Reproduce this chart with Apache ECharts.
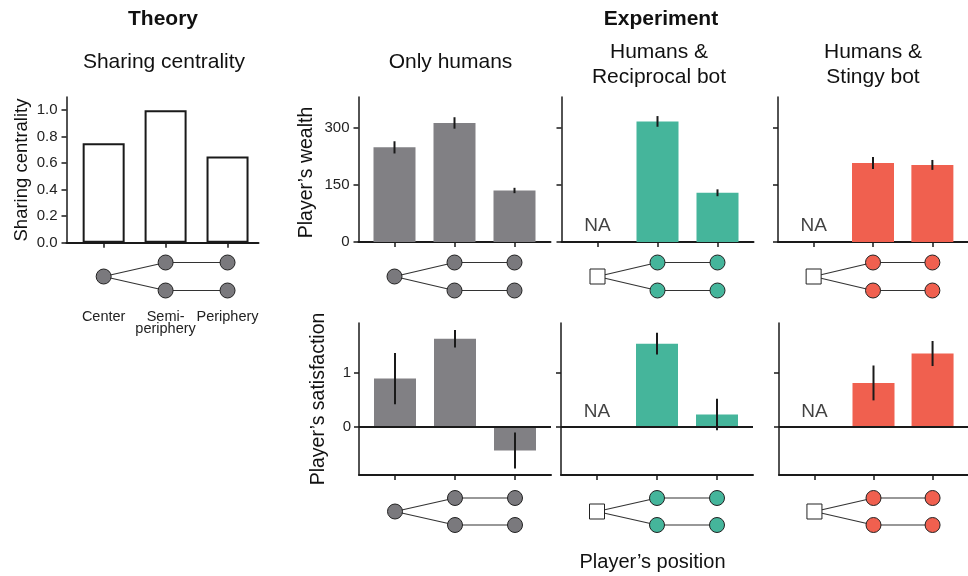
<!DOCTYPE html>
<html><head><meta charset="utf-8">
<script src="https://cdn.jsdelivr.net/npm/echarts@6/dist/echarts.min.js"></script>
<style>html,body{margin:0;padding:0;background:#fff}#c{width:968px;height:576px}</style>
</head><body><div id="c"></div>
<script>
// ---------- data ----------
const positions = ['Center', 'Semi-\nperiphery', 'Periphery'];
const theoryCentrality = [0.75, 1.0, 0.65];
const theoryTicks = [0, 0.2, 0.4, 0.6, 0.8, 1.0];
const wealthTicks = [0, 150, 300];
const satisfactionTicks = [0, 1];

const wealthHumans = [248, 312, 135];
const wealthHumansErr = [16, 15, 7];
const wealthReciprocal = [null, 316, 129];
const wealthReciprocalErr = [null, 14, 9];
const wealthStingy = [null, 207, 202];
const wealthStingyErr = [null, 16, 13];

const satHumans = [0.89, 1.62, -0.43];
const satHumansErr = [0.47, 0.16, 0.33];
const satReciprocal = [null, 1.53, 0.23];
const satReciprocalErr = [null, 0.2, 0.29];
const satStingy = [null, 0.81, 1.35];
const satStingyErr = [null, 0.32, 0.23];

const naLabel = 'NA';
const naWealthLevel = 42;
const naSatLevel = 0.28;

// network diagram: node positions (category index, row) and edges
const nodePos = [[0, 0.5], [1, 1], [1, 0], [2, 1], [2, 0]];
const edgePaths = [[[0, 0.5], [1, 1], [2, 1]], [[0, 0.5], [1, 0], [2, 0]]];

// ---------- style ----------
const FONT = "'Liberation Sans', Arial, Helvetica, sans-serif";
const INK = '#1a1a1a';
const GRAY = '#818084';
const GRAY_NODE = '#7a797d';
const TEAL = '#45b59b';
const RED = '#f0604f';

const grid = [], xAxis = [], yAxis = [], series = [];

function addPanel(c) {
  const gi = grid.length;
  grid.push({ left: c.left, top: c.top, width: c.width, height: c.height });
  xAxis.push({
    gridIndex: gi, type: 'value', min: -0.6, max: c.xMax,
    axisLine: { show: true, onZero: false, lineStyle: { color: INK, width: 2 } },
    axisTick: { show: true, customValues: [0, 1, 2], length: 5, lineStyle: { color: INK, width: 1.5 } },
    axisLabel: { show: false }, splitLine: { show: false }
  });
  yAxis.push({
    gridIndex: gi, type: 'value', min: c.yMin, max: c.yMax,
    axisLine: { show: true, onZero: false, lineStyle: { color: INK, width: 1.5 } },
    axisTick: { show: true, customValues: c.ticks, length: 5, lineStyle: { color: INK, width: 1.5 } },
    axisLabel: { show: c.showLabels, customValues: c.ticks, formatter: c.fmt, color: '#222',
      fontSize: 15, fontFamily: FONT, margin: c.margin || 9 },
    splitLine: { show: false }
  });
  return gi;
}

function addBars(gi, vals, errs, color, opts) {
  opts = opts || {};
  const s = {
    type: 'bar', xAxisIndex: gi, yAxisIndex: gi, barWidth: opts.barWidth || 42,
    data: vals.map((v, i) => [i, v]).filter(d => d[1] != null),
    itemStyle: opts.itemStyle || { color: color },
    silent: true, animation: false, z: 2
  };
  if (opts.zeroLine) {
    s.markLine = { silent: true, symbol: 'none', animation: false, label: { show: false },
      lineStyle: { color: INK, width: 2, type: 'solid' }, data: [{ yAxis: 0 }] };
  }
  series.push(s);
  if (errs) {
    series.push({
      type: 'custom', xAxisIndex: gi, yAxisIndex: gi, silent: true, animation: false, z: 5,
      data: vals.map((v, i) => v == null ? null : [i, v - errs[i], v + errs[i]]).filter(Boolean),
      renderItem: function (p, api) {
        const a = api.coord([api.value(0), api.value(1)]);
        const b = api.coord([api.value(0), api.value(2)]);
        return { type: 'line', shape: { x1: a[0], y1: a[1], x2: b[0], y2: b[1] },
          style: { stroke: INK, lineWidth: 2 } };
      }
    });
  }
}

function addNA(gi, level) {
  series.push({
    type: 'scatter', xAxisIndex: gi, yAxisIndex: gi, silent: true, animation: false,
    data: [[0, level]], symbolSize: 1, itemStyle: { color: 'transparent' },
    label: { show: true, position: 'inside', formatter: naLabel, fontSize: 19, fontFamily: FONT, color: '#111' }
  });
}

function addDiagram(left, width, top, height, xMax, fill, bot, labels) {
  const gi = grid.length;
  grid.push({ left: left, top: top, width: width, height: height });
  xAxis.push({
    gridIndex: gi, type: 'value', min: -0.6, max: xMax,
    axisLine: { show: false }, axisTick: { show: false }, splitLine: { show: false },
    axisLabel: labels ? { show: true, customValues: [0, 1, 2], formatter: v => positions[Math.round(v)],
      fontSize: 14.5, fontFamily: FONT, color: '#222', lineHeight: 12, verticalAlign: 'top', margin: 6.5 } : { show: false }
  });
  yAxis.push({ gridIndex: gi, type: 'value', min: -0.5, max: 1.5, show: false });
  edgePaths.forEach(p => series.push({
    type: 'line', xAxisIndex: gi, yAxisIndex: gi, data: p, symbol: 'none', showSymbol: false,
    lineStyle: { color: '#333', width: 1.2 }, silent: true, animation: false, z: 3
  }));
  series.push({
    type: 'scatter', xAxisIndex: gi, yAxisIndex: gi, data: nodePos.slice(1), symbol: 'circle', symbolSize: 15,
    itemStyle: { color: fill, borderColor: '#222', borderWidth: 1, opacity: 1 }, silent: true, animation: false, z: 4
  });
  series.push({
    type: 'scatter', xAxisIndex: gi, yAxisIndex: gi, data: [nodePos[0]], symbol: bot ? 'rect' : 'circle', symbolSize: 15,
    itemStyle: { color: bot ? '#fff' : fill, borderColor: '#222', borderWidth: 1, opacity: 1 }, silent: true, animation: false, z: 4
  });
}

// ---------- Theory ----------
const gT = addPanel({ left: 66.5, top: 97, width: 192, height: 145.7, xMax: 2.5, yMin: 0, yMax: 1.1,
  ticks: theoryTicks, showLabels: true, fmt: v => v.toFixed(1) });
addBars(gT, theoryCentrality, null, null, { barWidth: 42, itemStyle: { color: '#fff', borderColor: INK, borderWidth: 2 } });
addDiagram(66.5, 192, 248.5, 56, 2.5, GRAY_NODE, false, true);

// ---------- Wealth row ----------
const wealthCfg = { top: 97, height: 145, width: 192, xMax: 2.6, yMin: 0, yMax: 380, ticks: wealthTicks, fmt: v => String(v) };
const gW1 = addPanel(Object.assign({}, wealthCfg, { left: 358.5, showLabels: true }));
addBars(gW1, wealthHumans, wealthHumansErr, GRAY);
const gW2 = addPanel(Object.assign({}, wealthCfg, { left: 561.5, showLabels: false }));
addBars(gW2, wealthReciprocal, wealthReciprocalErr, TEAL);
addNA(gW2, naWealthLevel);
const gW3 = addPanel(Object.assign({}, wealthCfg, { left: 778, showLabels: false }));
addBars(gW3, wealthStingy, wealthStingyErr, RED);
addNA(gW3, naWealthLevel);
addDiagram(358.5, 192, 248.5, 56, 2.6, GRAY_NODE, false, false);
addDiagram(561.5, 192, 248.5, 56, 2.6, TEAL, true, false);
addDiagram(778, 192, 248.5, 56, 2.6, RED, true, false);

// ---------- Satisfaction row ----------
const satCfg = { top: 323, height: 152, width: 192, xMax: 2.6, yMin: -0.88, yMax: 1.91, ticks: satisfactionTicks, fmt: v => String(v), margin: 8 };
const gS1 = addPanel(Object.assign({}, satCfg, { left: 359, showLabels: true }));
addBars(gS1, satHumans, satHumansErr, GRAY, { zeroLine: true });
const gS2 = addPanel(Object.assign({}, satCfg, { left: 561, showLabels: false }));
addBars(gS2, satReciprocal, satReciprocalErr, TEAL, { zeroLine: true });
addNA(gS2, naSatLevel);
const gS3 = addPanel(Object.assign({}, satCfg, { left: 779, showLabels: false }));
addBars(gS3, satStingy, satStingyErr, RED, { zeroLine: true });
addNA(gS3, naSatLevel);
addDiagram(359, 192, 484.5, 54, 2.6, GRAY_NODE, false, false);
addDiagram(561, 192, 484.5, 54, 2.6, TEAL, true, false);
addDiagram(779, 192, 484.5, 54, 2.6, RED, true, false);

// ---------- texts ----------
function txt(text, x, y, size, opts) {
  opts = opts || {};
  return {
    type: 'text', x: x, y: y, rotation: opts.rot || 0, silent: true,
    style: { text: text, font: (opts.bold ? 'bold ' : '') + size + 'px ' + FONT, fill: '#111',
      align: 'center', verticalAlign: 'middle', textAlign: 'center', textVerticalAlign: 'middle' }
  };
}
const graphic = [
  txt('Theory', 163, 19, 21, { bold: true }),
  txt('Sharing centrality', 164, 62, 21),
  txt('Experiment', 661, 19, 21, { bold: true }),
  txt('Only humans', 450.5, 62, 21),
  txt('Humans &', 659, 52, 21),
  txt('Reciprocal bot', 659, 77, 21),
  txt('Humans &', 873, 52, 21),
  txt('Stingy bot', 873, 77, 21),
  txt('Player\u2019s position', 652.5, 562, 20),
  txt('Sharing centrality', 22, 170, 18.5, { rot: Math.PI / 2 }),
  txt('Player\u2019s wealth', 307, 172.5, 19.5, { rot: Math.PI / 2 }),
  txt('Player\u2019s satisfaction', 319, 399, 19.5, { rot: Math.PI / 2 })
];

const chart = echarts.init(document.getElementById('c'), null, { renderer: 'canvas' });
chart.setOption({
  backgroundColor: '#fff', animation: false,
  grid: grid, xAxis: xAxis, yAxis: yAxis, series: series, graphic: graphic
});
</script>
</body></html>
